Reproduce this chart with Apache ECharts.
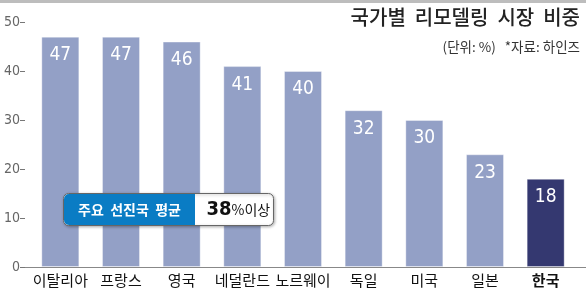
<!DOCTYPE html>
<html><head><meta charset="utf-8">
<script src="https://cdn.jsdelivr.net/npm/echarts@6/dist/echarts.min.js"></script>
<style>html,body{margin:0;padding:0;background:#fff}#c{width:586px;height:289px}</style>
</head><body><div id="c"></div>
<script>
var categories = ['이탈리아','프랑스','영국','네덜란드','노르웨이','독일','미국','일본','한국'];
var values = [47,47,46,41,40,32,30,23,18];
var highlight = '한국';
var yTicks = {min:0, max:50, interval:10};
var titleText = '국가별  리모델링  시장  비중';
var subText = '(단위: %)   *자료: 하인즈';
var calloutLabel = '주요  선진국  평균';
var calloutValue = '38';
var calloutSuffix = '%이상';

var KR = '"Noto Sans CJK KR", sans-serif';
var NUM = '"DejaVu Sans Condensed", "Liberation Sans Narrow", sans-serif';
var chart = echarts.init(document.getElementById('c'), null, {renderer:'canvas'});
chart.setOption({
  animation:false,
  grid:{left:30, right:10, top:22, bottom:22},
  xAxis:{type:'category', data:categories,
    axisLine:{show:false}, axisTick:{show:false},
    axisLabel:{interval:0, margin:6, fontSize:15, color:'#111', fontFamily:KR,
      formatter:function(v){return v===highlight?'{b|'+v+'}':v;},
      rich:{b:{fontWeight:'bold', fontSize:15, color:'#111', fontFamily:KR}}}},
  yAxis:{type:'value', min:yTicks.min, max:yTicks.max, interval:yTicks.interval,
    offset:5,
    axisLine:{show:false}, axisTick:{show:true, length:5, lineStyle:{color:'#777'}},
    splitLine:{show:false},
    axisLabel:{margin:5, fontSize:14, color:'#666', fontFamily:NUM}},
  series:[{type:'bar', barWidth:38,
    data:values.map(function(v,i){return {value:v, itemStyle:{color: categories[i]===highlight?'#343870':'#93A0C6'}};}),
    itemStyle:{borderColor:'rgba(255,255,255,0.35)', borderWidth:1},
    label:{show:true, position:'insideTop', distance:9, color:'#fff', fontSize:19, fontFamily:NUM}
  }],
  graphic:[
    {type:'rect', shape:{x:0,y:0,width:586,height:3}, style:{fill:'#bdbdbd'}},
    {type:'line', shape:{x1:20,y1:267.5,x2:586,y2:267.5}, style:{stroke:'#888', lineWidth:1}},
    {type:'text', right:6, top:7, style:{text:titleText, font:'500 20px '+KR, fill:'#222'}},
    {type:'text', right:6, top:40, style:{text:subText, font:'13.5px '+KR, fill:'#333'}},
    {type:'group', left:63, top:193, z:100, children:[
      {type:'rect', z:100, shape:{x:0,y:0,width:210,height:32,r:5}, style:{fill:'#fff', stroke:'#666', lineWidth:1, shadowBlur:3, shadowOffsetX:1, shadowOffsetY:1, shadowColor:'rgba(0,0,0,0.3)'}},
      {type:'rect', z:101, shape:{x:0.5,y:0.5,width:131,height:31,r:[5,0,0,5]}, style:{fill:'#0A7CC4'}},
      {type:'text', z:102, x:66, y:16, style:{text:calloutLabel, align:'center', verticalAlign:'middle', font:'bold 14px '+KR, fill:'#fff'}},
      {type:'text', z:102, x:143, y:16, style:{text:'{n|'+calloutValue+'}{s|'+calloutSuffix+'}', verticalAlign:'middle',
        rich:{n:{font:'bold 20px '+NUM, fill:'#111'}, s:{font:'14px '+KR, fill:'#111'}}}}
    ]}
  ]
});
</script></body></html>
